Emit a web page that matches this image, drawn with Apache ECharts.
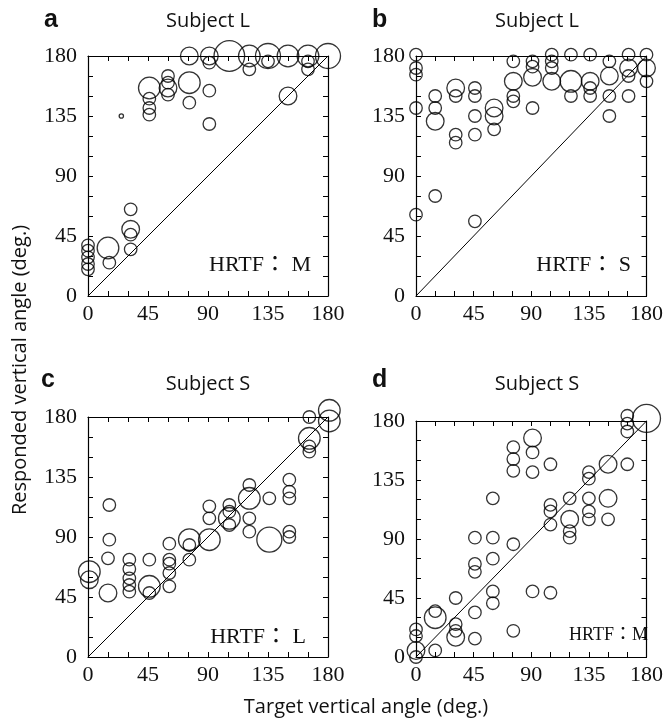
<!DOCTYPE html>
<html>
<head>
<meta charset="utf-8">
<script src="https://cdn.jsdelivr.net/npm/echarts@6/dist/echarts.min.js"></script>
<style>
  html, body { margin: 0; padding: 0; background: #fff; }
  #chart { width: 666px; height: 724px; }
</style>
</head>
<body>
<div id="chart"></div>
<script>
// [target angle, responded angle, number of responses]
const panelA = [
  [0, 38, 1], [0, 34, 1], [0, 29, 1], [0, 24, 1], [0, 20, 1],
  [15, 36, 3], [16, 25, 1],
  [25, 135, 0.12],
  [32, 65, 1], [32, 50, 2], [32, 46, 1], [32, 35, 1],
  [46, 156, 3], [46, 148, 1], [46, 141, 1], [46, 136, 1],
  [60, 165, 1], [60, 160, 1], [60, 156, 2], [60, 151, 1],
  [76, 180, 2], [76, 160, 3], [76, 145, 1],
  [91, 180, 2], [91, 175, 1], [91, 154, 1], [91, 129, 1],
  [106, 180, 6],
  [121, 180, 3], [121, 170, 1],
  [135, 180, 4], [135, 176, 1],
  [150, 180, 3], [150, 150, 2],
  [165, 180, 3], [165, 176, 1], [165, 170, 1],
  [180, 180, 4]
];
const panelB = [
  [0, 181, 1], [0, 171, 1], [0, 166, 1], [0, 141, 1], [0, 61, 1],
  [15, 150, 1], [15, 141, 1], [15, 131, 2], [15, 75, 1],
  [31, 156, 2], [31, 150, 1], [31, 121, 1], [31, 115, 1],
  [46, 156, 1], [46, 150, 1], [46, 135, 1], [46, 121, 1], [46, 56, 1],
  [61, 141, 2], [61, 135, 2], [61, 125, 1],
  [76, 176, 1], [76, 161, 2], [76, 150, 1], [76, 146, 1],
  [91, 176, 1], [91, 172, 1], [91, 164, 2], [91, 141, 1],
  [106, 181, 1], [106, 176, 1], [106, 171, 1], [106, 161, 2],
  [121, 181, 1], [121, 161, 3], [121, 150, 1],
  [136, 181, 1], [136, 161, 2], [136, 156, 1], [136, 150, 1],
  [151, 176, 1], [151, 165, 2], [151, 150, 1], [151, 135, 1],
  [166, 181, 1], [166, 171, 2], [166, 165, 1], [166, 150, 1],
  [180, 181, 1], [180, 171, 2], [180, 161, 1]
];
const panelC = [
  [1, 64, 3], [1, 58, 2],
  [16, 114, 1], [16, 88, 1], [15, 74, 1], [15, 48, 2],
  [31, 73, 1], [31, 66, 1], [31, 59, 1], [31, 54, 1], [31, 49, 1],
  [46, 73, 1], [46, 53, 3], [46, 48, 1],
  [61, 85, 1], [61, 73, 1], [61, 70, 1], [61, 63, 1], [61, 53, 1],
  [76, 88, 3], [76, 84, 1], [76, 73, 1],
  [91, 113, 1], [91, 104, 1], [91, 88, 3],
  [106, 114, 1], [106, 109, 1], [106, 104, 3], [106, 99, 1],
  [121, 129, 1], [121, 119, 3], [121, 104, 1], [121, 94, 1],
  [136, 119, 1], [136, 88, 4],
  [151, 133, 1], [151, 124, 1], [151, 119, 1], [151, 94, 1], [151, 90, 1],
  [166, 180, 1], [166, 164, 3], [166, 158, 1], [166, 154, 1],
  [181, 185, 3], [181, 177, 3]
];
const panelD = [
  [0, 21, 1], [0, 16, 1], [0, 5, 2], [0, 0, 1],
  [15, 35, 1], [15, 30, 3], [15, 5, 1],
  [31, 45, 1], [31, 25, 1], [31, 20, 1], [31, 15, 2],
  [46, 91, 1], [46, 71, 1], [46, 65, 1], [46, 34, 1], [46, 14, 1],
  [60, 121, 1], [60, 91, 1], [60, 75, 1], [60, 50, 1], [60, 41, 1],
  [76, 160, 1], [76, 151, 1], [76, 142, 1], [76, 86, 1], [76, 20, 1],
  [91, 167, 2], [91, 156, 1], [91, 141, 1], [91, 50, 1],
  [105, 147, 1], [105, 116, 1], [105, 111, 1], [105, 101, 1], [105, 49, 1],
  [120, 121, 1], [120, 105, 2], [120, 96, 1], [120, 91, 1],
  [135, 141, 1], [135, 136, 1], [135, 121, 1], [135, 111, 1], [135, 105, 1],
  [150, 147, 2], [150, 121, 2], [150, 105, 1],
  [165, 184, 1], [165, 178, 1], [165, 172, 1], [165, 147, 1],
  [180, 182, 5]
];
const diagonal = [[0, 0], [180, 180]];
const tickLabels = [0, 45, 90, 135, 180];
const letters = ['a', 'b', 'c', 'd'];
const subjects = ['Subject L', 'Subject L', 'Subject S', 'Subject S'];
const hrtf = ['HRTF： M', 'HRTF： S', 'HRTF： L', 'HRTF：M'];

const panels = [panelA, panelB, panelC, panelD];
const grids = [
  { left: 88, top: 56, width: 240, height: 240 },
  { left: 416, top: 56, width: 242, height: 240 },
  { left: 88, top: 417, width: 240, height: 240 },
  { left: 416, top: 421, width: 242, height: 236 }
];

const serif = "'Liberation Serif', 'Noto Sans CJK JP', serif";
const line = { show: true, onZero: false, lineStyle: { color: '#000', width: 1.2 } };
const tick = { show: true, inside: true, length: 5, lineStyle: { color: '#000', width: 1 } };
const label = {
  formatter: v => (tickLabels.includes(v) ? String(v) : ''),
  color: '#111', fontFamily: serif, fontSize: 22
};

const xAxis = [], yAxis = [], series = [];
grids.forEach((g, i) => {
  const base = { gridIndex: i, type: 'value', min: 0, max: 180, interval: 15,
    axisLine: line, axisTick: tick, splitLine: { show: false } };
  xAxis.push(Object.assign({}, base, { position: 'bottom', axisLabel: Object.assign({ margin: 7 }, label) }));
  xAxis.push(Object.assign({}, base, { position: 'top', axisLabel: { show: false } }));
  yAxis.push(Object.assign({}, base, { position: 'left', axisLabel: Object.assign({ margin: 11 }, label) }));
  yAxis.push(Object.assign({}, base, { position: 'right', axisLabel: { show: false } }));

  series.push({
    type: 'line', xAxisIndex: 2 * i, yAxisIndex: 2 * i, data: diagonal,
    symbol: 'none', silent: true, lineStyle: { color: '#000', width: 1 }
  });
  series.push({
    type: 'scatter', xAxisIndex: 2 * i, yAxisIndex: 2 * i, data: panels[i],
    clip: false, silent: true,
    symbolSize: d => 12.5 * Math.sqrt(d[2]),
    itemStyle: { color: 'rgba(0,0,0,0)', borderColor: '#000', borderWidth: 1.3 }
  });
});

const letterPos = [[44, 20], [372, 20], [41, 380], [372, 380]];
const subjectPos = [[208, 21], [537, 21], [208, 384], [537, 384]];
const hrtfPos = [[311, 265], [631, 265], [306, 637], [648, 635]];

const graphic = [];
grids.forEach((g, i) => {
  graphic.push({ type: 'text', x: letterPos[i][0], y: letterPos[i][1],
    style: { text: letters[i], font: "bold 25px 'Liberation Sans', Arial, sans-serif",
      fill: '#111', textAlign: 'left', verticalAlign: 'middle' } });
  graphic.push({ type: 'text', x: subjectPos[i][0], y: subjectPos[i][1],
    style: { text: subjects[i], font: "20px 'Open Sans', sans-serif",
      fill: '#111', textAlign: 'center', verticalAlign: 'middle' } });
  graphic.push({ type: 'text', x: hrtfPos[i][0], y: hrtfPos[i][1],
    style: { text: hrtf[i], font: (i === 3 ? 18 : 22) + 'px ' + serif,
      fill: '#111', textAlign: 'right', verticalAlign: 'middle' } });
});
graphic.push({ type: 'text', x: 366, y: 707,
  style: { text: 'Target vertical angle (deg.)', font: "20px 'Open Sans', sans-serif",
    fill: '#111', textAlign: 'center', verticalAlign: 'middle' } });
graphic.push({ type: 'text', x: 20, y: 370, rotation: Math.PI / 2,
  style: { text: 'Responded vertical angle (deg.)', font: "20px 'Open Sans', sans-serif",
    fill: '#111', textAlign: 'center', verticalAlign: 'middle' } });

const chart = echarts.init(document.getElementById('chart'), null, { renderer: 'canvas' });
chart.setOption({
  animation: false,
  backgroundColor: '#fff',
  grid: grids,
  xAxis: xAxis,
  yAxis: yAxis,
  series: series,
  graphic: graphic
});
</script>
</body>
</html>
